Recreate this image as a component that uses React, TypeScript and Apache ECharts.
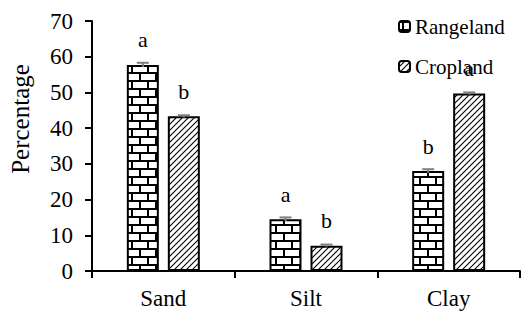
import React, { useEffect, useRef } from "react";
import * as echarts from "echarts";

const categories = ["Sand", "Silt", "Clay"];
const rangeland = [57.7, 14.5, 28.0];
const cropland = [43.3, 7.1, 49.7];
const rangelandErr = [0.6, 0.5, 0.5];
const croplandErr = [0.3, 0.3, 0.3];
const rangelandLetters = ["a", "a", "b"];
const croplandLetters = ["b", "b", "a"];
const yTicks = [0, 10, 20, 30, 40, 50, 60, 70];

const FONT = "Liberation Serif";

function brickPattern(): string {
  const c = document.createElement("canvas");
  c.width = 16;
  c.height = 16;
  const g = c.getContext("2d")!;
  g.fillStyle = "#ffffff";
  g.fillRect(0, 0, 16, 16);
  g.fillStyle = "#000000";
  g.fillRect(0, 0, 16, 2);
  g.fillRect(0, 8, 16, 2);
  g.fillRect(3, 0, 2, 8);
  g.fillRect(11, 8, 2, 8);
  return c.toDataURL();
}

function hatchPattern(): string {
  const c = document.createElement("canvas");
  c.width = 6;
  c.height = 6;
  const g = c.getContext("2d")!;
  g.fillStyle = "#ffffff";
  g.fillRect(0, 0, 6, 6);
  g.strokeStyle = "#000000";
  g.lineWidth = 1.1;
  g.beginPath();
  g.moveTo(-1, 7);
  g.lineTo(7, -1);
  g.moveTo(-4, 4);
  g.lineTo(4, -4);
  g.moveTo(2, 10);
  g.lineTo(10, 2);
  g.stroke();
  return c.toDataURL();
}

export default function App() {
  const ref = useRef<HTMLDivElement>(null);
  useEffect(() => {
    if (!ref.current) return;
    const chart = echarts.init(ref.current, undefined, { renderer: "svg" });
    const brick = { image: brickPattern(), repeat: "repeat" };
    const hatch = { image: hatchPattern(), repeat: "repeat" };
    const barW = 32;
    const gapPx = 9;
    const off = (barW + gapPx) / 2;

    const errData = categories.map((_, i) => [i, rangeland[i], rangelandErr[i], cropland[i], croplandErr[i]]);

    const txt = (size: number) => ({
      color: "#000",
      fontSize: size,
      fontFamily: FONT,
      fontWeight: "normal" as const,
    });

    chart.setOption({
      animation: false,
      textStyle: { fontFamily: FONT },
      grid: { left: 92, right: 1, top: 21, bottom: 40 },
      legend: {
        orient: "vertical",
        left: 393,
        top: 11,
        itemWidth: 11,
        itemHeight: 11,
        itemGap: 19,
        textStyle: { ...txt(21), lineHeight: 21 },
        itemStyle: { borderColor: "#000", borderWidth: 2 },
        data: ["Rangeland", "Cropland"],
      },
      graphic: [
        {
          type: "text",
          x: 20,
          y: 119,
          rotation: Math.PI / 2,
          style: {
            text: "Percentage",
            fontFamily: FONT,
            fontSize: 25,
            fill: "#000",
            align: "center",
            verticalAlign: "middle",
          },
        },
      ],
      xAxis: {
        type: "category",
        data: categories,
        axisLine: { lineStyle: { color: "#000", width: 2 } },
        axisTick: { show: true, length: 7, lineStyle: { color: "#000", width: 2 } },
        axisLabel: { ...txt(23), margin: 16 },
      },
      yAxis: {
        type: "value",
        min: yTicks[0],
        max: yTicks[yTicks.length - 1],
        interval: 10,
        splitLine: { show: false },
        axisLine: { show: true, lineStyle: { color: "#000", width: 2 } },
        axisTick: { show: true, length: 7, lineStyle: { color: "#000", width: 2 } },
        axisLabel: { ...txt(23), margin: 19 },
      },
      series: [
        {
          name: "Rangeland",
          type: "bar",
          data: rangeland,
          barWidth: barW,
          barGap: `${(gapPx / barW) * 100}%`,
          itemStyle: { color: brick, borderColor: "#000", borderWidth: 2 },
          label: {
            show: true,
            position: "top",
            distance: 14,
            ...txt(22),
            formatter: (p: any) => rangelandLetters[p.dataIndex],
          },
        },
        {
          name: "Cropland",
          type: "bar",
          data: cropland,
          barWidth: barW,
          itemStyle: { color: hatch, borderColor: "#000", borderWidth: 2 },
          label: {
            show: true,
            position: "top",
            distance: 14,
            ...txt(22),
            formatter: (p: any) => croplandLetters[p.dataIndex],
          },
        },
        {
          type: "custom",
          name: "err",
          data: errData,
          z: 10,
          silent: true,
          renderItem: (params: any, api: any) => {
            const idx = api.value(0);
            const children: any[] = [];
            const pairs = [
              [api.value(1), api.value(2), -off],
              [api.value(3), api.value(4), off],
            ];
            for (const [v, e, dx] of pairs) {
              const top = api.coord([idx, v + e]);
              const bot = api.coord([idx, v - e]);
              const cx = top[0] + dx;
              children.push({
                type: "line",
                shape: { x1: cx, y1: top[1], x2: cx, y2: bot[1] },
                style: { stroke: "#7f7f7f", lineWidth: 2 },
              });
              children.push({
                type: "line",
                shape: { x1: cx - 6, y1: top[1], x2: cx + 6, y2: top[1] },
                style: { stroke: "#7f7f7f", lineWidth: 2 },
              });
            }
            return { type: "group", children };
          },
        },
      ],
    });
    return () => chart.dispose();
  }, []);
  return (
    <div
      ref={ref}
      style={{ position: "absolute", left: 0, top: 0, width: 521, height: 311 }}
    />
  );
}
